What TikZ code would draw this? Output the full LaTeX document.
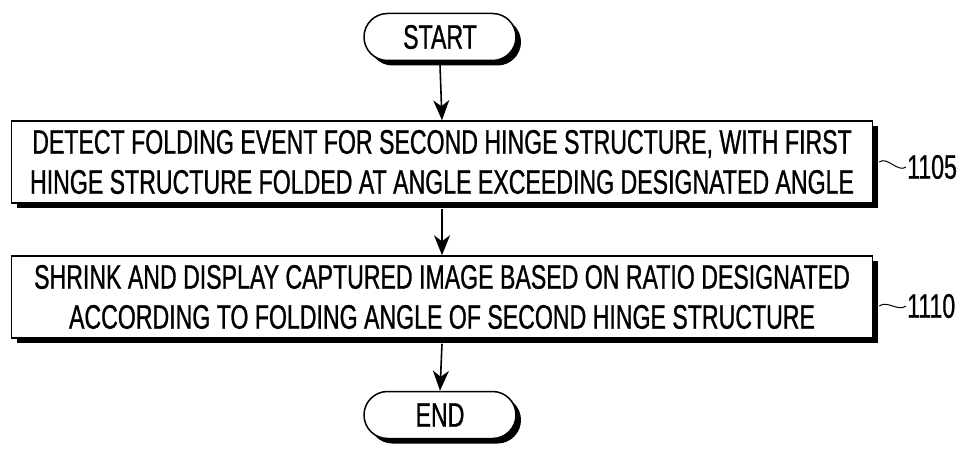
\documentclass[tikz,border=0pt]{standalone}
\usepackage{fontspec}
\setmainfont[FakeStretch=0.68,FakeBold=0.8]{Liberation Sans}
\usetikzlibrary{arrows.meta,positioning,shapes.misc,shadows}

\begin{document}
\begin{tikzpicture}
    [x=1pt,y=-1pt,
      every node/.style={font=\fontsize{34}{40}\selectfont},
      shade/.style={drop shadow={shadow xshift=5pt,shadow yshift=-5pt,opacity=1,fill=black}},
      term/.style={rounded rectangle,draw,line width=1.5pt,fill=white,shade,minimum width=152pt,minimum height=47pt,inner sep=0pt},
      stepbox/.style={rectangle,draw,line width=1.5pt,fill=white,shade,minimum width=861pt,minimum height=82pt,inner sep=0pt,align=center},
      flow/.style={line width=1.6pt,-{Stealth[length=20pt,width=16pt,inset=6pt]}},
      tag/.style={line width=1pt},
    ]
    \useasboundingbox (0,0) rectangle (971,449);
    \node [term] (start) at (440,37) {START};
    \node [stepbox] (detect) at (442,162) {DETECT FOLDING EVENT FOR SECOND HINGE STRUCTURE, WITH FIRST\\HINGE STRUCTURE FOLDED AT ANGLE EXCEEDING DESIGNATED ANGLE};
    \node [stepbox] (shrink) at (442,297) {SHRINK AND DISPLAY CAPTURED IMAGE BASED ON RATIO DESIGNATED\\ACCORDING TO FOLDING ANGLE OF SECOND HINGE STRUCTURE};
    \node [term] (end) at (440,415) {END};

    % arrows
    \draw [flow] ([yshift=-4pt]start.south) -- (detect.north);
    \draw [flow] ([yshift=-5pt]detect.south) -- (shrink.north);
    \draw [flow] ([yshift=-5pt]shrink.south) -- (end.north);

    % reference numerals
    \coordinate (t1) at (906,167);
    \coordinate (t2) at (906,306);
    \draw [tag] ([xshift=6pt]detect.east) .. controls +(8,-6) and +(-8,6) .. (t1);
    \draw [tag] ([xshift=6pt,yshift=-9pt]shrink.east) .. controls +(8,-6) and +(-8,6) .. (t2);
    \node [anchor=west,inner sep=1pt] (n1105) at (t1) {1105};
    \node [anchor=west,inner sep=1pt] (n1110) at (t2) {1110};
  \end{tikzpicture}
\end{document}
